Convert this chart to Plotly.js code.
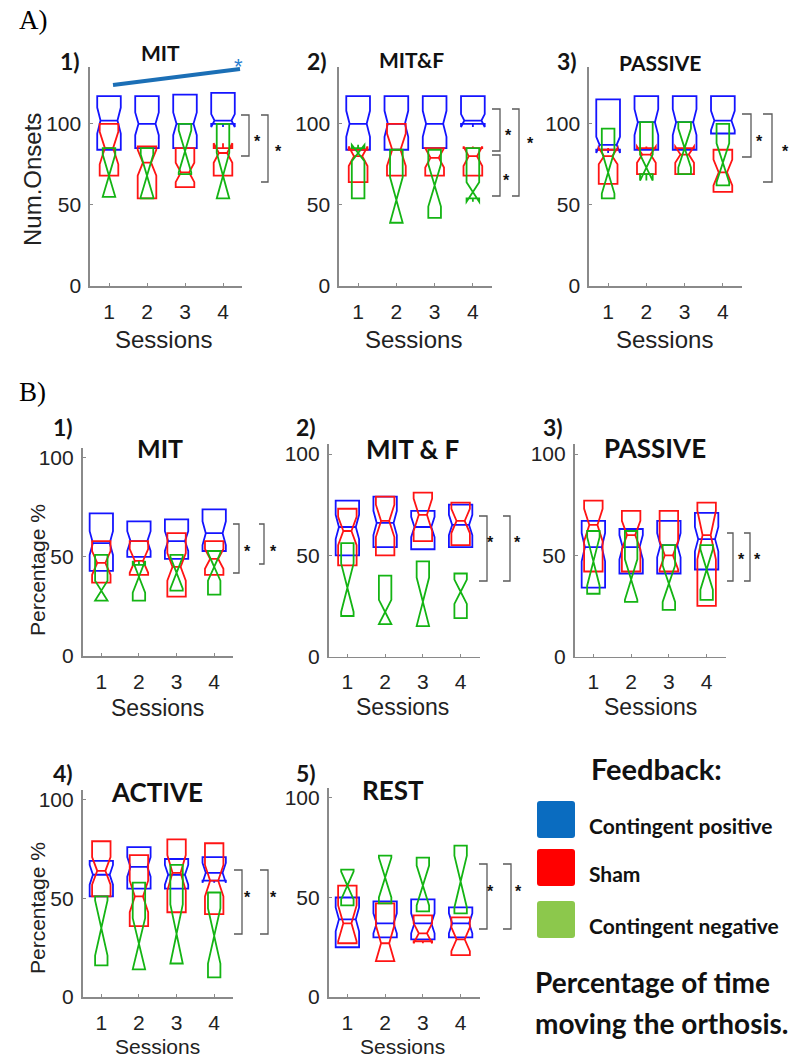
<!DOCTYPE html>
<html>
<head>
<meta charset="utf-8">
<script src="https://cdn.plot.ly/plotly-3.0.1.min.js"></script>
<style>
  html, body { margin: 0; padding: 0; background: #ffffff; }
  #fig { width: 805px; height: 1058px; }
</style>
</head>
<body>
<div id="fig"></div>
<script>
// ---- data ----------------------------------------------------------------
const sessions = [1, 2, 3, 4];
const sessionLabels = ['1', '2', '3', '4'];
const onsetTicks = [0, 50, 100];
const percentTicks = [0, 50, 100];

// every row: [q1, median, q3, notch half-span] for sessions 1..4
// A) number of onsets
const onsetsMIT_positive = [[84, 102, 117, 8], [85, 100, 117, 7], [85, 100, 118, 7], [100, 102, 119, 4]];
const onsetsMIT_sham     = [[68, 85, 100, 10], [54, 76, 86, 8], [61, 70, 85, 6], [68, 82, 85, 6]];
const onsetsMIT_negative = [[55, 68, 85, 13], [54, 68, 85, 13], [69, 83, 100, 13], [54, 68, 100, 14]];

const onsetsMITF_positive = [[84, 100, 117, 8], [84, 100, 117, 8], [85, 100, 117, 8], [100, 102, 117, 4]];
const onsetsMITF_sham     = [[64, 80, 84, 6], [68, 84, 100, 10], [68, 79, 85, 6], [68, 80, 85, 6]];
const onsetsMITF_negative = [[54, 82, 85, 5], [39, 53, 84, 14], [42, 62, 84, 13], [54, 58, 85, 6]];

const onsetsPassive_positive = [[84, 87, 115, 5], [84, 101, 117, 8], [84, 101, 117, 8], [94, 102, 117, 6]];
const onsetsPassive_sham     = [[63, 80, 84, 5], [69, 81, 85, 5], [69, 81, 85, 5], [58, 70, 84, 8]];
const onsetsPassive_negative = [[54, 70, 97, 13], [69, 73, 101, 8], [69, 85, 101, 12], [62, 76, 100, 12]];

// B) percentage of time moving the orthosis
const pctMIT_positive = [[43, 57, 72, 6], [50, 58, 68, 5], [49, 58, 69, 5], [53, 62, 74, 6]];
const pctMIT_sham     = [[37, 47, 58, 6], [41, 48, 58, 6], [30, 45, 62, 7], [41, 49, 58, 5]];
const pctMIT_negative = [[28, 33, 51, 5], [28, 40, 46, 8], [33, 42, 51, 8], [31, 45, 53, 7]];

const pctMITF_positive = [[50, 64, 77, 6], [54, 66, 79, 6], [53, 64, 72, 5], [54, 65, 75, 5]];
const pctMITF_sham     = [[45, 62, 73, 7], [50, 67, 79, 8], [57, 70, 81, 8], [55, 67, 76, 6]];
const pctMITF_negative = [[20, 34, 56, 12], [16, 22, 40, 6], [15, 27, 47, 12], [19, 32, 41, 6]];

const pctPassive_positive = [[34, 54, 67, 7], [41, 54, 63, 6], [41, 55, 67, 6], [43, 58, 71, 6]];
const pctPassive_sham     = [[42, 65, 77, 8], [42, 60, 72, 7], [42, 50, 72, 7], [25, 60, 76, 12]];
const pctPassive_negative = [[31, 47, 62, 12], [27, 38, 62, 10], [23, 36, 55, 9], [28, 43, 55, 10]];

const pctActive_positive = [[51, 62, 69, 5], [55, 66, 76, 5], [55, 62, 70, 5], [59, 63, 71, 5]];
const pctActive_sham     = [[51, 64, 79, 7], [36, 51, 72, 8], [43, 63, 80, 9], [42, 59, 78, 8]];
const pctActive_negative = [[16, 35, 51, 14], [14, 27, 58, 13], [17, 32, 67, 15], [10, 31, 53, 14]];

const pctRest_positive = [[25, 39, 50, 6], [30, 37, 48, 5], [29, 37, 49, 5], [30, 37, 45, 5]];
const pctRest_sham     = [[27, 37, 56, 9], [18, 27, 47, 9], [28, 32, 41, 5], [21, 29, 40, 6]];
const pctRest_negative = [[46, 56, 64, 7], [47, 60, 71, 10], [43, 56, 70, 10], [42, 58, 76, 13]];

const feedbackNames = ['Contingent positive', 'Sham', 'Contingent negative'];

// ---- styling -------------------------------------------------------------
const W = 805, H = 1058;
const fx = px => px / W;
const fy = py => 1 - py / H;

const groupStyle = [
  { color: '#1414ff', width: 0.62, notch: 0.14 },   // contingent positive
  { color: '#ff1414', width: 0.49, notch: 0.28 },   // sham
  { color: '#14b414', width: 0.33, notch: 0.5 }     // contingent negative
];
const legendColors = ['#0a6cc0', '#ff0000', '#8cc84c'];

const SANS = 'Liberation Sans, Arial, sans-serif';
const BOLD = 'Lato, Carlito, Calibri, sans-serif';

// panel frames in page pixels
const panels = [
  { groups: [onsetsMIT_positive, onsetsMIT_sham, onsetsMIT_negative], x0: 90, x1: 242, top: 67, bot: 286, ymax: 135, ticks: onsetTicks,
    num: '1)', numPos: [70, 61], title: 'MIT', titlePos: [160, 52], titleSize: 21, ytitle: 'Num.Onsets', ytitlePos: [33, 180], ytitleSize: 24,
    sessPos: [163, 339], sessSize: 24,
    brackets: [[249, 241, 115, 156, 257, 137], [268, 261, 115, 182, 278, 147]] },
  { groups: [onsetsMITF_positive, onsetsMITF_sham, onsetsMITF_negative], x0: 339, x1: 492, top: 67, bot: 286, ymax: 135, ticks: onsetTicks,
    num: '2)', numPos: [317, 61], title: 'MIT&amp;F', titlePos: [411, 60], titleSize: 21,
    sessPos: [414, 339], sessSize: 24,
    brackets: [[500, 492, 109, 151, 508, 131], [500, 492, 155, 196, 506, 177], [519, 512, 109, 196, 530, 140]] },
  { groups: [onsetsPassive_positive, onsetsPassive_sham, onsetsPassive_negative], x0: 589, x1: 742, top: 67, bot: 286, ymax: 135, ticks: onsetTicks,
    num: '3)', numPos: [567, 61], title: 'PASSIVE', titlePos: [660, 62], titleSize: 21,
    sessPos: [664, 339], sessSize: 24,
    brackets: [[751, 742, 114, 157, 759, 137], [772, 763, 114, 182, 785, 147]] },
  { groups: [pctMIT_positive, pctMIT_sham, pctMIT_negative], x0: 82.5, x1: 233, top: 448, bot: 656, ymax: 105, ticks: percentTicks,
    num: '1)', numPos: [63, 427], title: 'MIT', titlePos: [160, 448], titleSize: 25, ytitle: 'Percentage %', ytitlePos: [37, 570], ytitleSize: 21,
    sessPos: [157, 708], sessSize: 23,
    brackets: [[239, 233, 524, 573, 247, 547], [264, 259, 524, 564, 273, 547]] },
  { groups: [pctMITF_positive, pctMITF_sham, pctMITF_negative], x0: 328.5, x1: 479.5, top: 444, bot: 656.5, ymax: 105, ticks: percentTicks,
    num: '2)', numPos: [306, 427], title: 'MIT &amp; F', titlePos: [412, 449], titleSize: 26,
    sessPos: [402, 707], sessSize: 23,
    brackets: [[487, 479, 516, 581, 491, 538], [510, 503, 516, 581, 517, 538]] },
  { groups: [pctPassive_positive, pctPassive_sham, pctPassive_negative], x0: 574.5, x1: 725.5, top: 444, bot: 656.5, ymax: 105, ticks: percentTicks,
    num: '3)', numPos: [553, 427], title: 'PASSIVE', titlePos: [655, 448], titleSize: 26,
    sessPos: [650, 707], sessSize: 23,
    brackets: [[733, 727, 533, 581, 741, 555], [750, 744, 533, 581, 757, 555]] },
  { groups: [pctActive_positive, pctActive_sham, pctActive_negative], x0: 82.5, x1: 233, top: 790, bot: 997, ymax: 105, ticks: percentTicks,
    num: '4)', numPos: [63, 773], title: 'ACTIVE', titlePos: [157, 792], titleSize: 26, ytitle: 'Percentage %', ytitlePos: [37, 908], ytitleSize: 21,
    sessPos: [157, 1046], sessSize: 21,
    brackets: [[242, 234, 870, 934, 247, 893], [268, 260, 870, 934, 273, 893]] },
  { groups: [pctRest_positive, pctRest_sham, pctRest_negative], x0: 328.5, x1: 479.5, top: 788, bot: 997, ymax: 105, ticks: percentTicks,
    num: '5)', numPos: [306, 773], title: 'REST', titlePos: [393, 790], titleSize: 26,
    sessPos: [402, 1046], sessSize: 21,
    brackets: [[487, 479, 864, 929, 491, 888], [511, 503, 864, 929, 518, 888]] }
];

const traces = [];
const annotations = [];
const shapes = [];
const layout = {
  width: W, height: H,
  margin: { l: 0, r: 0, t: 0, b: 0, pad: 0 },
  paper_bgcolor: '#ffffff', plot_bgcolor: 'rgba(0,0,0,0)',
  showlegend: false, boxmode: 'overlay',
  annotations: annotations, shapes: shapes
};

function text(str, px, py, opts) {
  annotations.push(Object.assign({
    text: str, x: fx(px), y: fy(py), xref: 'paper', yref: 'paper',
    xanchor: 'center', yanchor: 'middle', showarrow: false,
    font: { family: SANS, size: 20, color: '#1a1a1a' }
  }, opts || {}));
}

function line(xa, ya, xb, yb, color, width) {
  shapes.push({ type: 'line', xref: 'paper', yref: 'paper',
    x0: fx(xa), y0: fy(ya), x1: fx(xb), y1: fy(yb),
    line: { color: color, width: width } });
}

panels.forEach((p, i) => {
  const n = i + 1;
  const xk = 'xaxis' + (n === 1 ? '' : n), yk = 'yaxis' + (n === 1 ? '' : n);
  const xr = 'x' + (n === 1 ? '' : n), yr = 'y' + (n === 1 ? '' : n);
  const axisCommon = {
    showline: true, linecolor: '#8a8a8a', linewidth: 1.6,
    showgrid: false, zeroline: false, ticks: 'inside', ticklen: 3,
    tickcolor: '#8a8a8a', tickwidth: 1,
    tickfont: { family: SANS, size: 21, color: '#222222' }, fixedrange: true
  };
  layout[xk] = Object.assign({}, axisCommon, {
    domain: [fx(p.x0), fx(p.x1)], anchor: yr, range: [0.5, 4.5],
    tickmode: 'array', tickvals: sessions, ticktext: sessionLabels, ticklabelstandoff: 6
  });
  layout[yk] = Object.assign({}, axisCommon, {
    domain: [fy(p.bot), fy(p.top)], anchor: xr, range: [0, p.ymax],
    tickmode: 'array', tickvals: p.ticks, ticklabelstandoff: 3
  });

  p.groups.forEach((rows, g) => {
    const st = groupStyle[g];
    const q1 = rows.map(r => r[0]);
    const q3 = rows.map(r => r[2]);
    traces.push({
      type: 'box', name: feedbackNames[g], x: sessions,
      q1: q1, median: rows.map(r => r[1]), q3: q3,
      lowerfence: q1, upperfence: q3,
      notchspan: rows.map(r => r[3]),
      notched: true, notchwidth: st.notch, width: st.width,
      whiskerwidth: 0, boxpoints: false,
      fillcolor: 'rgba(0,0,0,0)', line: { color: st.color, width: 1.8 },
      xaxis: xr, yaxis: yr, hoverinfo: 'skip'
    });
  });

  // panel numbering and condition name
  text('<b>' + p.num + '</b>', p.numPos[0], p.numPos[1], { font: { family: BOLD, size: 23, color: '#151515' } });
  text('<b>' + p.title + '</b>', p.titlePos[0], p.titlePos[1], { font: { family: BOLD, size: p.titleSize, color: '#111111' } });
  text('Sessions', p.sessPos[0], p.sessPos[1], { font: { family: SANS, size: p.sessSize, color: '#222222' } });
  if (p.ytitle) {
    text(p.ytitle, p.ytitlePos[0], p.ytitlePos[1], { textangle: -90, font: { family: SANS, size: p.ytitleSize, color: '#222222' } });
  }

  // significance brackets
  p.brackets.forEach(b => {
    const [xv, xl, yt, yb, sx, sy] = b;
    shapes.push({ type: 'path', xref: 'paper', yref: 'paper',
      path: 'M' + fx(xl) + ',' + fy(yt) + ' L' + fx(xv) + ',' + fy(yt) + ' L' + fx(xv) + ',' + fy(yb) + ' L' + fx(xl) + ',' + fy(yb),
      line: { color: '#5a5a5a', width: 1.3 } });
    text('<b>*</b>', sx, sy + 4, { font: { family: SANS, size: 16, color: '#111111' } });
  });
});

// session trend over MIT onsets
line(113, 85, 240, 69, '#1b6fb6', 4);
text('*', 238, 66, { font: { family: SANS, size: 22, color: '#2a7fd0' } });

// section letters
text('A)', 17, 20, { xanchor: 'left', font: { family: 'Liberation Serif, Times New Roman, serif', size: 27, color: '#000000' } });
text('B)', 17, 392, { xanchor: 'left', font: { family: 'Liberation Serif, Times New Roman, serif', size: 27, color: '#000000' } });

// feedback key
text('<b>Feedback:</b>', 656, 768, { font: { family: BOLD, size: 29, color: '#111111' } });
const keyRows = [820, 868, 920];
function roundedSquare(x0, y0, x1, y1, r) {
  const X = v => fx(v), Y = v => fy(v);
  return 'M' + X(x0 + r) + ',' + Y(y0) + ' L' + X(x1 - r) + ',' + Y(y0) +
    ' Q' + X(x1) + ',' + Y(y0) + ' ' + X(x1) + ',' + Y(y0 + r) +
    ' L' + X(x1) + ',' + Y(y1 - r) + ' Q' + X(x1) + ',' + Y(y1) + ' ' + X(x1 - r) + ',' + Y(y1) +
    ' L' + X(x0 + r) + ',' + Y(y1) + ' Q' + X(x0) + ',' + Y(y1) + ' ' + X(x0) + ',' + Y(y1 - r) +
    ' L' + X(x0) + ',' + Y(y0 + r) + ' Q' + X(x0) + ',' + Y(y0) + ' ' + X(x0 + r) + ',' + Y(y0) + ' Z';
}
feedbackNames.forEach((name, g) => {
  const cy = keyRows[g];
  shapes.push({ type: 'path', xref: 'paper', yref: 'paper',
    path: roundedSquare(537, cy - 19, 575, cy + 18, 3),
    fillcolor: legendColors[g], line: { width: 0 } });
  text('<b>' + name + '</b>', 587, cy + 5, { xanchor: 'left', font: { family: BOLD, size: 21, color: '#111111' } });
});
text('<b>Percentage of time</b>', 533, 982, { xanchor: 'left', font: { family: BOLD, size: 28, color: '#111111' } });
text('<b>moving the orthosis.</b>', 533, 1023, { xanchor: 'left', font: { family: BOLD, size: 28, color: '#111111' } });

Plotly.newPlot('fig', traces, layout, { staticPlot: true, displayModeBar: false });
</script>
</body>
</html>
